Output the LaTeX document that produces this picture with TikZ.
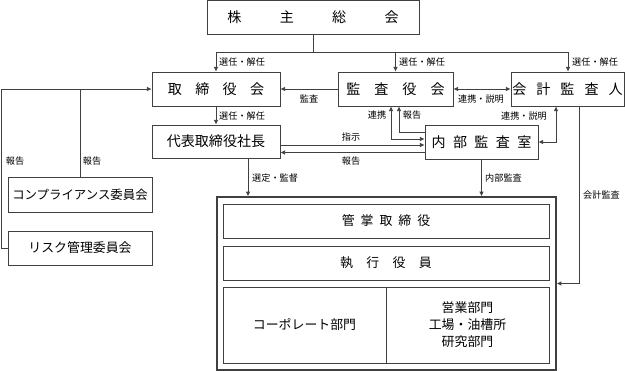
\documentclass[tikz,border=0pt]{standalone}
\usepackage{fontspec}
\setmainfont{Noto Sans CJK JP}
\usepackage{tikz}
\usetikzlibrary{arrows.meta}

\begin{document}
\begin{tikzpicture}[x=0.03cm, y=-0.03cm, >={Latex[length=4pt,width=4pt]},
    box/.style={draw=black!75, line width=0.7pt, inner sep=0pt, minimum height=1.02cm,
      font=\fontsize{12}{14}\selectfont},
    lbl/.style={inner sep=0pt, font=\fontsize{7.8}{9}\selectfont},
    line/.style={draw=black!75, line width=0.7pt}]
            \useasboundingbox (0,0) rectangle (625,371);

            % Boxes
            \node[box, minimum width=6.36cm] (meeting) at (313,17) {株\hspace{1.15cm}主\hspace{1.15cm}総\hspace{1.15cm}会};
            \node[box, minimum width=3.84cm] (board) at (216,89) {取\hspace{0.4cm}締\hspace{0.4cm}役\hspace{0.4cm}会};
            \node[box, minimum width=3.84cm, minimum height=0.99cm] (president) at (216,141.5) {代表取締役社長};
            \node[box, minimum width=3.45cm] (auditors) at (395.5,89) {監\hspace{0.42cm}査\hspace{0.42cm}役\hspace{0.42cm}会};
            \node[box, minimum width=3.39cm] (accountant) at (567.5,89) {会\hspace{0.3cm}計\hspace{0.3cm}監\hspace{0.3cm}査\hspace{0.3cm}人};
            \node[box, minimum width=3.39cm] (internal) at (481.5,142) {内\hspace{0.22cm}部\hspace{0.22cm}監\hspace{0.22cm}査\hspace{0.22cm}室};
            \node[box, minimum width=4.32cm, minimum height=1.05cm, font=\fontsize{10.6}{13}\selectfont] (compliance) at (80,194.5) {コンプライアンス委員会};
            \node[box, minimum width=4.32cm, font=\fontsize{11}{13}\selectfont] (risk) at (80,248) {リスク管理委員会};

            % Operations block
            \node[box, line width=1.2pt, minimum width=10.17cm, minimum height=5.19cm] (operations) at (386.5,283.5) {};
            \node[box, minimum width=9.78cm, font=\fontsize{11}{13}\selectfont] (officers) at (386,221) {管\hspace{0.18cm}掌\hspace{0.18cm}取\hspace{0.18cm}締\hspace{0.18cm}役};
            \node[box, minimum width=9.78cm, font=\fontsize{11}{13}\selectfont] (executives) at (386,263) {執\hspace{0.4cm}行\hspace{0.4cm}役\hspace{0.4cm}員};
            \node[box, minimum width=4.89cm, minimum height=2.28cm, font=\fontsize{11}{13}\selectfont] (corporate) at (304.5,325) {コーポレート部門};
            \node[box, minimum width=4.89cm, minimum height=2.28cm, align=center, font=\fontsize{11}{14.5}\selectfont] (divisions) at (467.5,325) {営業部門\\工場・油槽所\\研究部門};

            % Appointment from the shareholders
            \coordinate (selL) at (216,52);
            \coordinate (selR) at (568,52);
            \draw[line] (meeting.south) -- (meeting.south |- selL);
            \draw[line] (selL) -- (selR);
            \draw[line, ->] (selL) -- (board.north);
            \draw[line, ->] (selL -| auditors.north) -- (auditors.north);
            \draw[line, ->] (selR) -- (selR |- accountant.north);
            \draw[line, ->] (board) -- (president);

            % Audit and cooperation
            \draw[line, ->] (auditors.west) -- (board.east);
            \draw[line, <->] (auditors.east) -- (accountant.west);
            \draw[line, <->] (internal.east) -| ([xshift=-0.345cm]accountant.south);
            \draw[line, <->] ([xshift=-0.135cm]auditors.south) |- ([yshift=0.09cm]internal.west);
            \draw[line, <-] ([xshift=0.105cm]auditors.south) |- ([yshift=0.3cm]internal.west);
            \draw[line, ->] ([yshift=-0.105cm]president.east) -- ([yshift=-0.105cm]president.east -| internal.west);
            \draw[line, <-] ([yshift=-0.33cm]president.east) -- ([yshift=-0.33cm]president.east -| internal.west);

            % Down to the operations block
            \draw[line, ->] ([xshift=0.96cm]president.south) -- ([xshift=0.96cm]president.south |- operations.north);
            \draw[line, ->] (internal.south) -- (internal.south |- operations.north);
            \draw[line, ->] ([xshift=0.345cm]accountant.south) |- (operations.east);

            % Committees
            \coordinate (rail) at (1,89);
            \draw[line, ->] (risk.west) -| (rail) -- (board.west);
            \draw[line] (compliance.north) -- (compliance.north |- board.west);

            % Labels
            \node[lbl, anchor=west] (l1) at (219,62) {選任・解任};
            \node[lbl, anchor=west] (l2) at (399,62) {選任・解任};
            \node[lbl, anchor=west] (l3) at (572,62) {選任・解任};
            \node[lbl, anchor=west] (l4) at (219,116) {選任・解任};
            \node[lbl] (l5) at (309,99) {監査};
            \node[lbl] (l6) at (481,99) {連携・説明};
            \node[lbl] (l7) at (524,116) {連携・説明};
            \node[lbl] (l8) at (377,115) {連携};
            \node[lbl] (l9) at (412,115) {報告};
            \node[lbl] (l10) at (351,137) {指示};
            \node[lbl] (l11) at (351,161) {報告};
            \node[lbl, anchor=west] (l12) at (252,178) {選定・監督};
            \node[lbl, anchor=west] (l13) at (485,178) {内部監査};
            \node[lbl, anchor=west] (l14) at (583,195) {会計監査};
            \node[lbl] (l15) at (15,161) {報告};
            \node[lbl] (l16) at (92,161) {報告};
        \end{tikzpicture}
\end{document}
